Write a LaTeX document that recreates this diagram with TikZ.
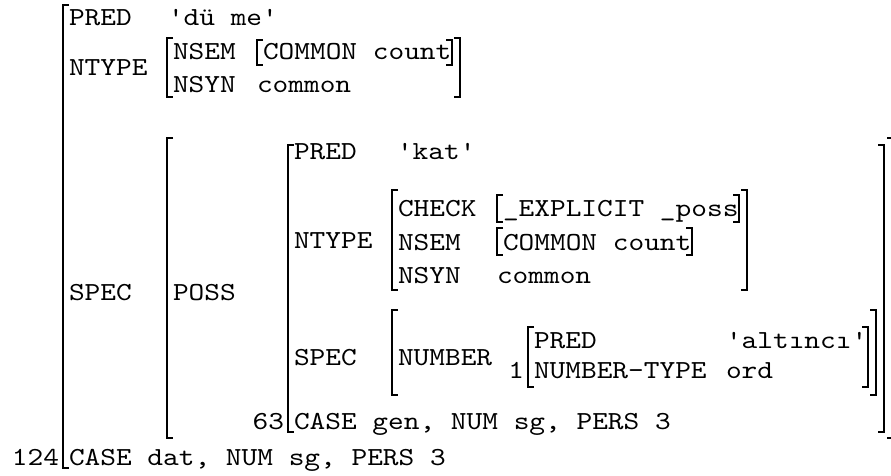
\documentclass[tikz,border=0pt]{standalone}
\usepackage{fontspec}
\setmonofont{lmmono10-regular}[Extension=.otf, FakeStretch=1.15]
\newcommand{\avmfont}{\ttfamily\fontsize{26}{30}\selectfont}

\begin{document}
\begin{tikzpicture}[x=1pt, y=-1pt, line width=2pt]
\useasboundingbox (0,0) rectangle (891,476);
\clip (0,0) rectangle (891,476);
\tikzstyle{every node} = [inner sep=0pt, anchor=base west, font=\avmfont]
% outer f-structure
\node (lab124) [anchor=base east] at (60,465) {124};
\node (pred) at (68,26) {PRED};
\node (predv) at (167,26) {'dü me'};
\node (ntype) at (68,76) {NTYPE};
\node (spec) at (68,300) {SPEC};
\node (case) at (68,465) {CASE dat, NUM sg, PERS 3};
% ntype of the head
\node (nsem) at (172,60) {NSEM};
\node (nsemv) at (262,60) {COMMON count};
\node (nsyn) at (172,93) {NSYN};
\node (nsynv) at (256,93) {common};
% spec / poss
\node (poss) at (172,300) {POSS};
\node (lab63) [anchor=base east] at (285,429) {63};
\node (ppred) at (293,160) {PRED};
\node (ppredv) at (396,160) {'kat'};
\node (pntype) at (293,248) {NTYPE};
\node (pspec) at (293,365) {SPEC};
\node (pcase) at (293,429) {CASE gen, NUM sg, PERS 3};
% ntype of the possessor
\node (check) at (397,216) {CHECK};
\node (checkv) at (502,216) {\_EXPLICIT \_poss};
\node (pnsem) at (397,250) {NSEM};
\node (pnsemv) at (502,250) {COMMON count};
\node (pnsyn) at (397,283) {NSYN};
\node (pnsynv) at (496,283) {common};
% number
\node (number) at (397,365) {NUMBER};
\node (lab1) [anchor=base east] at (525,378) {1};
\node (npred) at (533,348) {PRED};
\node (npredv) at (725,348) {'altıncı'};
\node (ntyp) at (533,378) {NUMBER-TYPE};
\node (ntypv) at (725,378) {ord};
% left brackets
\foreach \x/\t/\b in {63/5/468, 167/38/97, 257/40/65, 167/138/438, 288/145/432,
  392/190/290, 497/195/222, 497/228/255, 392/310/395, 528/327/387}
  \draw ({\x+6},\t) -- (\x,\t) -- (\x,\b) -- ({\x+6},\b);
% right brackets
\foreach \x/\t/\b in {900/5/468, 460/38/97, 452/40/65, 893/138/438, 884/145/432,
  747/190/290, 739/195/222, 692/228/255, 876/310/395, 868/327/387}
  \draw ({\x-6},\t) -- (\x,\t) -- (\x,\b) -- ({\x-6},\b);
\end{tikzpicture}
\end{document}
